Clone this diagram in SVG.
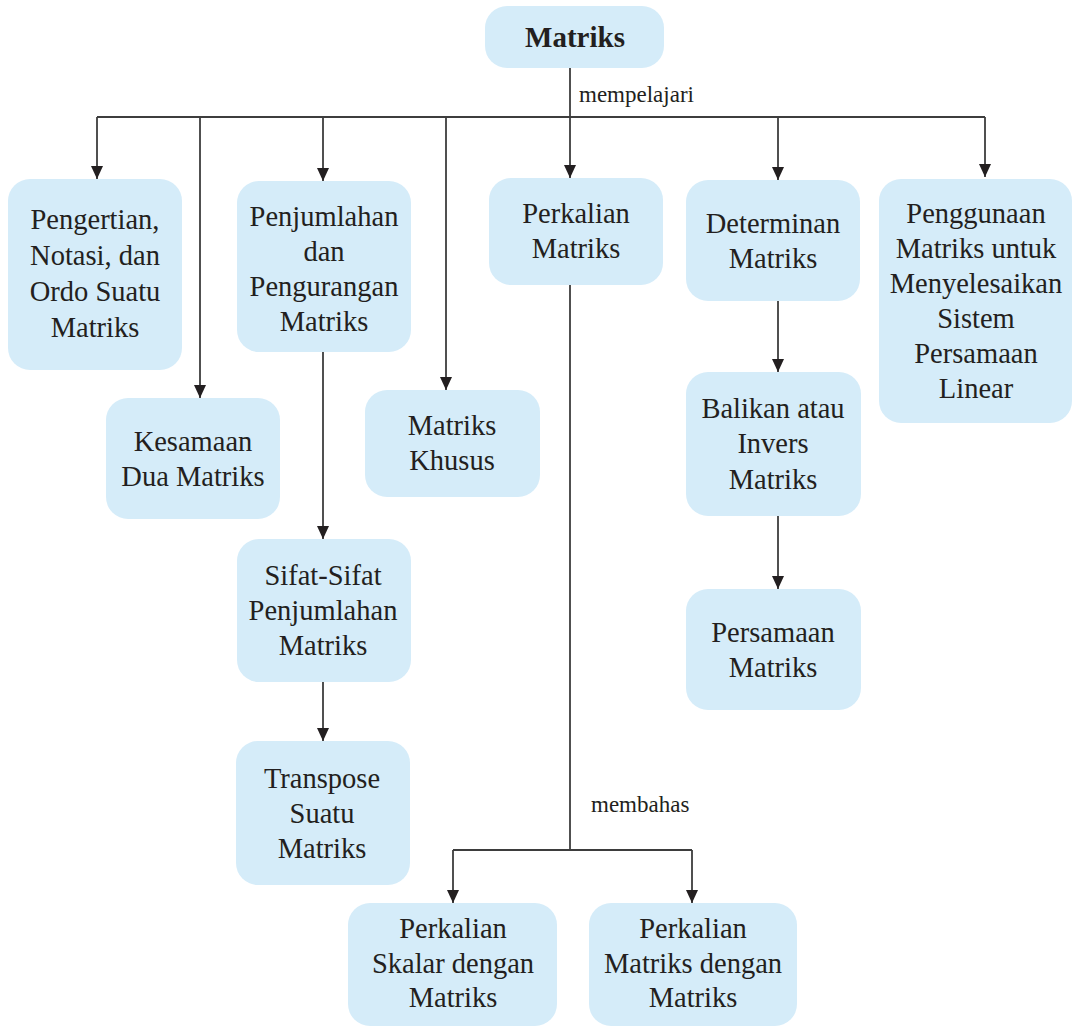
<svg xmlns="http://www.w3.org/2000/svg" width="1074" height="1027" viewBox="0 0 1074 1027" font-family="Liberation Serif, Times New Roman, Tinos, Noto Serif, DejaVu Serif, serif">
<style>
.box{fill:#d5ecf9;}
.t{font-size:28.5px;text-anchor:middle;fill:#231f20;}
.title{font-size:29px;font-weight:bold;text-anchor:middle;fill:#231f20;}
.lbl{font-size:23px;fill:#231f20;}
.ln{fill:none;stroke:#3d3d3d;stroke-width:1.8;}
.ar{fill:none;stroke:#3d3d3d;stroke-width:1.8;marker-end:url(#ah);}
</style>
<defs>
<marker id="ah" viewBox="0 0 13 12" refX="13" refY="6" markerWidth="13" markerHeight="12" markerUnits="userSpaceOnUse" orient="auto">
<path d="M0,0 L13,6 L0,12 Z" fill="#231f20"/>
</marker>
</defs>
<rect width="1074" height="1027" fill="#ffffff"/>
<g id="connectors">
<line class="ln" x1="570" y1="68" x2="570" y2="117"/>
<line class="ln" x1="97" y1="117" x2="985" y2="117"/>
<path class="ar" d="M97,117 V179"/>
<path class="ar" d="M200,117 V398"/>
<path class="ar" d="M323,117 V181"/>
<path class="ar" d="M446,117 V390"/>
<path class="ar" d="M570,117 V178"/>
<path class="ar" d="M778,117 V180"/>
<path class="ar" d="M985,117 V177"/>
<path class="ar" d="M323,352 V539"/>
<path class="ar" d="M323,682 V741"/>
<path class="ar" d="M778,301 V372"/>
<path class="ar" d="M778,516 V589"/>
<line class="ln" x1="570" y1="285" x2="570" y2="850"/>
<line class="ln" x1="453" y1="850" x2="692" y2="850"/>
<path class="ar" d="M453,850 V903"/>
<path class="ar" d="M692,850 V903"/>
<text class="lbl" x="579" y="102" font-family="Liberation Serif, Times New Roman, serif">mempelajari</text>
<text class="lbl" x="591" y="812" font-family="Liberation Serif, Times New Roman, serif">membahas</text>
</g>
<g id="n-matriks" font-family="Liberation Serif, Times New Roman, serif">
<rect class="box" x="485" y="6" width="179" height="62" rx="22"/>
<text class="title" x="575" y="47">Matriks</text>
</g>
<g id="n-pengertian" font-family="Liberation Serif, Times New Roman, serif">
<rect class="box" x="8" y="179" width="174" height="191" rx="22"/>
<text class="t" x="95" y="229">Pengertian,</text>
<text class="t" x="95" y="265">Notasi, dan</text>
<text class="t" x="95" y="301">Ordo Suatu</text>
<text class="t" x="95" y="337">Matriks</text>
</g>
<g id="n-kesamaan" font-family="Liberation Serif, Times New Roman, serif">
<rect class="box" x="106" y="398" width="174" height="121" rx="22"/>
<text class="t" x="193" y="451">Kesamaan</text>
<text class="t" x="193" y="486">Dua Matriks</text>
</g>
<g id="n-penjumlahan" font-family="Liberation Serif, Times New Roman, serif">
<rect class="box" x="237" y="181" width="174" height="171" rx="22"/>
<text class="t" x="324" y="226">Penjumlahan</text>
<text class="t" x="324" y="261">dan</text>
<text class="t" x="324" y="296">Pengurangan</text>
<text class="t" x="324" y="331">Matriks</text>
</g>
<g id="n-khusus" font-family="Liberation Serif, Times New Roman, serif">
<rect class="box" x="365" y="390" width="175" height="107" rx="22"/>
<text class="t" x="452" y="435">Matriks</text>
<text class="t" x="452" y="470">Khusus</text>
</g>
<g id="n-perkalian" font-family="Liberation Serif, Times New Roman, serif">
<rect class="box" x="489" y="178" width="174" height="107" rx="22"/>
<text class="t" x="576" y="223">Perkalian</text>
<text class="t" x="576" y="258">Matriks</text>
</g>
<g id="n-determinan" font-family="Liberation Serif, Times New Roman, serif">
<rect class="box" x="686" y="180" width="174" height="121" rx="22"/>
<text class="t" x="773" y="233">Determinan</text>
<text class="t" x="773" y="268">Matriks</text>
</g>
<g id="n-penggunaan" font-family="Liberation Serif, Times New Roman, serif">
<rect class="box" x="879" y="179" width="193" height="244" rx="22"/>
<text class="t" x="976" y="223">Penggunaan</text>
<text class="t" x="976" y="258">Matriks untuk</text>
<text class="t" x="976" y="293">Menyelesaikan</text>
<text class="t" x="976" y="328">Sistem</text>
<text class="t" x="976" y="363">Persamaan</text>
<text class="t" x="976" y="398">Linear</text>
</g>
<g id="n-balikan" font-family="Liberation Serif, Times New Roman, serif">
<rect class="box" x="686" y="372" width="175" height="144" rx="22"/>
<text class="t" x="773" y="418">Balikan atau</text>
<text class="t" x="773" y="453">Invers</text>
<text class="t" x="773" y="489">Matriks</text>
</g>
<g id="n-persamaan" font-family="Liberation Serif, Times New Roman, serif">
<rect class="box" x="686" y="589" width="175" height="121" rx="22"/>
<text class="t" x="773" y="642">Persamaan</text>
<text class="t" x="773" y="677">Matriks</text>
</g>
<g id="n-sifat" font-family="Liberation Serif, Times New Roman, serif">
<rect class="box" x="237" y="539" width="174" height="143" rx="22"/>
<text class="t" x="323" y="585">Sifat-Sifat</text>
<text class="t" x="323" y="620">Penjumlahan</text>
<text class="t" x="323" y="655">Matriks</text>
</g>
<g id="n-transpose" font-family="Liberation Serif, Times New Roman, serif">
<rect class="box" x="236" y="741" width="174" height="144" rx="22"/>
<text class="t" x="322" y="788">Transpose</text>
<text class="t" x="322" y="823">Suatu</text>
<text class="t" x="322" y="858">Matriks</text>
</g>
<g id="n-skalar" font-family="Liberation Serif, Times New Roman, serif">
<rect class="box" x="348" y="903" width="209" height="123" rx="22"/>
<text class="t" x="453" y="938">Perkalian</text>
<text class="t" x="453" y="973">Skalar dengan</text>
<text class="t" x="453" y="1007">Matriks</text>
</g>
<g id="n-perkalian-matriks" font-family="Liberation Serif, Times New Roman, serif">
<rect class="box" x="589" y="903" width="208" height="123" rx="22"/>
<text class="t" x="693" y="938">Perkalian</text>
<text class="t" x="693" y="973">Matriks dengan</text>
<text class="t" x="693" y="1007">Matriks</text>
</g>
</svg>
